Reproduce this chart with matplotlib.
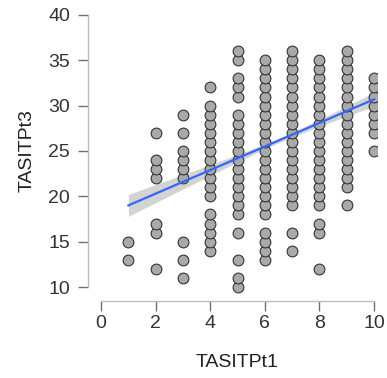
import numpy as np
import matplotlib.pyplot as plt

plt.rcParams["font.family"] = ["Liberation Sans", "DejaVu Sans"]

t1_levels = [1, 2, 3, 4, 5, 6, 7, 8, 9, 10]
t3_at_1 = [13, 15]
t3_at_2 = [12, 16, 17, 22, 23, 24, 27]
t3_at_3 = [11, 13, 15, 22, 23, 24, 25, 27, 29]
t3_at_4 = [14, 15, 16, 17, 18, 20, 21, 22, 23, 24, 25, 26, 27, 28, 29, 30, 32]
t3_at_5 = [10, 11, 13, 16, 18, 19, 20, 21, 22, 23, 24, 25, 26, 27, 28, 29,
           31, 32, 33, 35, 36]
t3_at_6 = [13, 14, 15, 16, 18, 19, 20, 21, 22, 23, 24, 25, 26, 27, 28, 29,
           30, 31, 32, 33, 34, 35]
t3_at_7 = [14, 16, 19, 20, 21, 22, 23, 24, 25, 26, 27, 28, 29, 30, 31, 32,
           33, 34, 35, 36]
t3_at_8 = [12, 16, 17, 19, 20, 21, 22, 23, 24, 25, 26, 27, 28, 29, 30, 31,
           32, 33, 34, 35]
t3_at_9 = [19, 21, 22, 23, 24, 25, 26, 27, 28, 29, 30, 31, 32, 33, 34, 35, 36]
t3_at_10 = [25, 27, 28, 29, 30, 31, 32, 33]

# fitted line and its 95% band
# (overlapping points hide the real counts, so the fit is not recomputed)
fit_intercept = 17.7
fit_slope = 1.30
band_center_x = 6.6
band_min_halfwidth = 0.25
band_spread = 0.21

groups = [t3_at_1, t3_at_2, t3_at_3, t3_at_4, t3_at_5,
          t3_at_6, t3_at_7, t3_at_8, t3_at_9, t3_at_10]
x = np.concatenate([[lv] * len(g) for lv, g in zip(t1_levels, groups)]).astype(float)
y = np.concatenate(groups).astype(float)

xs = np.linspace(x.min(), x.max(), 100)
fit = fit_intercept + fit_slope * xs
half = np.sqrt(band_min_halfwidth ** 2 + (band_spread * (xs - band_center_x)) ** 2)

fig = plt.figure(figsize=(3.87, 3.78), dpi=100)
ax = fig.add_axes([0.2274, 0.2037, 0.7463, 0.7688])

ax.fill_between(xs, fit - half, fit + half, color="#c8c8c8",
                alpha=0.8, linewidth=0, zorder=2)
ax.scatter(x, y, s=60, facecolor="#a9a9a9", edgecolor="#333333",
           linewidth=0.8, zorder=3)
ax.plot(xs, fit, color="#3366ff", linewidth=1.6, zorder=4)

ax.set_xlim(-0.48, 10.1)
ax.set_ylim(8.46, 40.5)
ax.set_xticks([0, 2, 4, 6, 8, 10])
ax.set_yticks([10, 15, 20, 25, 30, 35, 40])

for side in ["top", "right"]:
    ax.spines[side].set_visible(False)
ax.spines["left"].set_bounds(10, 40)
ax.spines["bottom"].set_bounds(0, 10)
for side in ["left", "bottom"]:
    ax.spines[side].set_color("#bdbdbd")
    ax.spines[side].set_linewidth(1.0)

ax.tick_params(axis="both", direction="out", length=7, width=1.0,
               color="#707070", labelsize=14, labelcolor="#333333")
ax.tick_params(axis="x", pad=3)
ax.tick_params(axis="y", pad=6)

ax.set_xlabel("TASITPt1", fontsize=14, color="#222222")
ax.set_ylabel("TASITPt3", fontsize=14, color="#222222")
ax.xaxis.set_label_coords(0.516, -0.182)
ax.yaxis.set_label_coords(-0.18, 0.518)

fig.savefig("out.png", dpi=100)
